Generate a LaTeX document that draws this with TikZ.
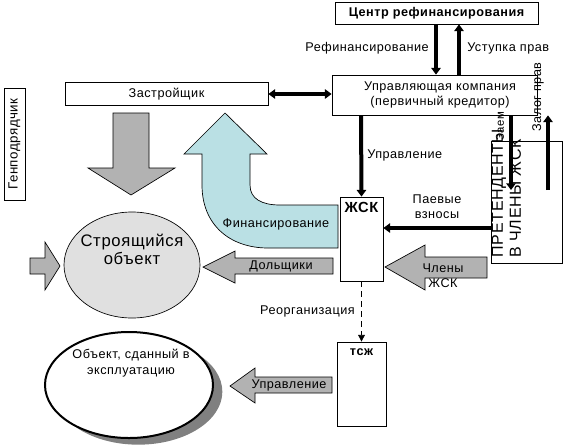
\documentclass[tikz,border=0pt]{standalone}
\usepackage{fontspec}
\setmainfont[LetterSpace=4]{Liberation Sans}
\usetikzlibrary{positioning,calc,arrows.meta,shapes.geometric,shadows}

\def\pxu{0.75pt}
\definecolor{finblue}{RGB}{186,224,228}

\begin{document}
\begin{tikzpicture}[x=0.75pt,y=-0.75pt,line join=miter,
  font=\fontsize{9.5}{11.5}\selectfont,
  box/.style={draw,fill=white,line width=0.6pt,inner sep=0pt},
  bar/.style={line width=3pt,-{Triangle[length=5pt,width=7pt]}},
  blockarrow/.style={draw,fill=black!30,line width=0.5pt},
  lbl/.style={inner sep=0pt,align=center}]

  \useasboundingbox (0,0) rectangle (566,447);

  % helper abscissae / ordinates
  \coordinate (xref) at (436,0);
  \coordinate (xust) at (459,0);
  \coordinate (xupr) at (361,0);
  \coordinate (ypaev) at (0,228);
  \coordinate (zaemEnd) at (511,190);
  \coordinate (zalogEnd) at (548,190);

  % boxes
  \node[box,minimum width=203*\pxu,minimum height=22*\pxu,font=\fontsize{9.5}{11.5}\selectfont\bfseries] (centr) at (436.5,13) {Центр рефинансирования};
  \node[box,minimum width=205*\pxu,minimum height=40*\pxu] (uk) at (434.5,95) {};
  \node[lbl] (uktext) at (440,95) {Управляющая компания\\(первичный кредитор)};
  \node[box,minimum width=203*\pxu,minimum height=23*\pxu] (zastr) at (166.5,94) {Застройщик};
  \node[box,rotate=90,minimum width=112*\pxu,minimum height=21*\pxu,font=\fontsize{10}{12}\selectfont] (genp) at (14.5,144) {Генподрядчик};

  % financing (curved block arrow)
  \draw[fill=finblue,line width=0.5pt] (225,113) -- (267,154) -- (250,154) -- (250,185)
    .. controls (250,199) and (262,205) .. (280,205) -- (338,205) -- (338,248) -- (268,248)
    .. controls (230,248) and (202,225) .. (202,185) -- (202,154) -- (184,154) -- cycle;
  \node[lbl] (finlbl) at (276,224) {Финансирование};

  \node[box,minimum width=43*\pxu,minimum height=84*\pxu] (zhsk) at (361.5,239) {};
  \node[lbl,anchor=north,font=\fontsize{11}{12}\selectfont\bfseries] (zhsklbl) at ($(zhsk.north)+(0,5)$) {ЖСК};
  \node[box,minimum width=71*\pxu,minimum height=122*\pxu] (pret) at (526.5,202) {};
  \node[lbl,rotate=90,anchor=north west,align=left,font=\fontsize{12}{13.5}\selectfont] (prettext) at ($(pret.south west)+(1,-6)$) {ПРЕТЕНДЕНТЫ\\В ЧЛЕНЫ ЖСК};
  \node[box,minimum width=49*\pxu,minimum height=84*\pxu] (tsj) at (361.5,384) {};
  \node[lbl,anchor=north,font=\fontsize{9.5}{11}\selectfont\bfseries] (tsjlbl) at ($(tsj.north)+(0,7)$) {тсж};

  % objects
  \node[ellipse,draw,fill=black!12,line width=0.5pt,minimum width=136*\pxu,minimum height=106*\pxu] (stroy) at (132,265) {};
  \node[lbl,font=\fontsize{12.5}{13.5}\selectfont] (stroylbl) at (132,249) {Строящийся\\объект};
  \node[ellipse,draw,fill=white,line width=1.5pt,minimum width=168*\pxu,minimum height=106*\pxu,
    drop shadow={shadow xshift=7pt,shadow yshift=-5pt,fill=black!50,opacity=1}] (expl) at (129,385) {};
  \node[lbl] (expllbl) at (131,363) {Объект, сданный в\\эксплуатацию};

  % grey block arrows
  \draw[blockarrow] (113,113) -- (149,113) -- (149,168) -- (175,168) -- (131,195) -- (88,168) -- (113,168) -- cycle;
  \draw[blockarrow] (30,258) -- (45,258) -- (45,242) -- (60,266) -- (45,290) -- (45,274) -- (30,274) -- cycle;
  \draw[blockarrow] (333,258) -- (235,258) -- (235,251) -- (203,267) -- (235,283) -- (235,274) -- (333,274) -- cycle;
  \node[lbl] (dollbl) at (281,266) {Дольщики};
  \draw[blockarrow] (487,257) -- (425,257) -- (425,245) -- (385,267) -- (425,290) -- (425,278) -- (487,278) -- cycle;
  \node[lbl] (chllbl) at (443,276) {Члены\\ЖСК};
  \draw[blockarrow] (332,377) -- (255,377) -- (255,368) -- (230,386) -- (255,403) -- (255,393) -- (332,393) -- cycle;
  \node[lbl] (upr2lbl) at (289,385) {Управление};

  % thick arrows
  \draw[bar] (centr.south -| xref) -- (uk.north -| xref);
  \draw[bar] (uk.north -| xust) -- (centr.south -| xust);
  \node[lbl,anchor=east] (reflbl) at (429,48) {Рефинансирование};
  \node[lbl,anchor=west] (ustlbl) at (467,48) {Уступка прав};
  \draw[line width=3pt,{Triangle[length=5pt,width=7pt]}-{Triangle[length=5pt,width=7pt]}] (zastr.east) -- (zastr.east -| uk.west);
  \draw[bar] (uk.south -| xupr) -- (zhsk.north);
  \node[lbl,anchor=west] (upr1lbl) at (367,155) {Управление};
  \draw[bar] (uk.south -| zaemEnd) -- (zaemEnd);
  \draw[bar] (zalogEnd) -- (zalogEnd |- uk.south);
  \node[lbl,rotate=90,font=\fontsize{8.5}{10}\selectfont] (zaemlbl) at (500,126) {Заем};
  \node[lbl,rotate=90] (zaloglbl) at (538,97) {Залог прав};
  \draw[bar] (pret.west |- ypaev) -- (zhsk.east |- ypaev);
  \node[lbl] (paevlbl) at (437,207) {Паевые\\взносы};

  % reorganisation
  \draw[line width=0.6pt,dash pattern=on 4.5pt off 3pt,-{Triangle[length=5pt,width=5pt]}] (zhsk.south) -- (tsj.north);
  \node[lbl,anchor=east] (reorglbl) at (355,311) {Реорганизация};
\end{tikzpicture}
\end{document}
